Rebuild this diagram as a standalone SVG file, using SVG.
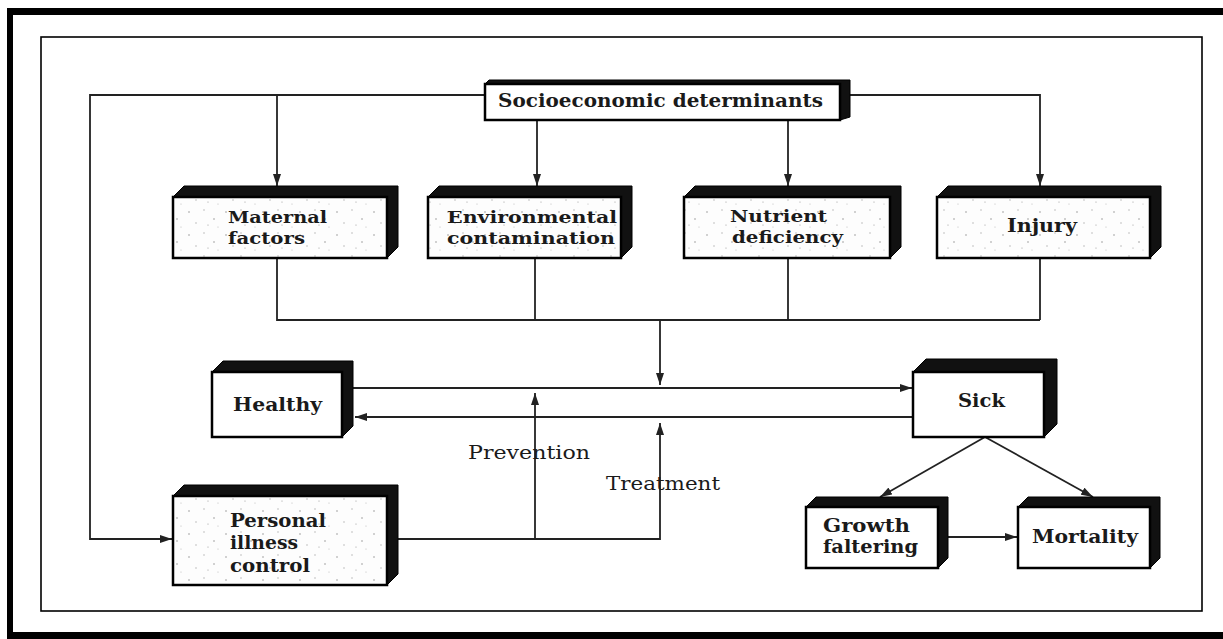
<svg xmlns="http://www.w3.org/2000/svg" width="1223" height="639" viewBox="0 0 1223 639">
<defs>
<style>
.frame{fill:none;stroke:#000}
.face{fill:#fff;stroke:#000;stroke-width:2.5}
.spk{fill:url(#speckle);stroke:#000;stroke-width:2.5}
.shade{fill:#111;stroke:#000;stroke-width:1}
.lbl{font-family:"DejaVu Serif","Liberation Serif",serif;font-weight:bold;font-size:19px;fill:#1a1a1a}
.sm{font-size:17px}
.plain{font-family:"DejaVu Serif","Liberation Serif",serif;font-size:19px;fill:#1a1a1a}
.ln{fill:none;stroke:#222;stroke-width:1.8}
.arr{fill:none;stroke:#222;stroke-width:1.8;marker-end:url(#ah)}
</style>
<marker id="ah" viewBox="0 0 12 8" refX="12" refY="4" markerWidth="12" markerHeight="8" markerUnits="userSpaceOnUse" orient="auto">
<path d="M0,0 L12,4 L0,8 Z" fill="#222"/>
</marker>
<pattern id="speckle" width="37" height="23" patternUnits="userSpaceOnUse">
<rect width="37" height="23" fill="#fdfdfd"/>
<circle cx="4" cy="5" r="0.8" fill="#999"/>
<circle cx="19" cy="3" r="0.7" fill="#aaa"/>
<circle cx="29" cy="12" r="0.8" fill="#999"/>
<circle cx="11" cy="16" r="0.7" fill="#aaa"/>
<circle cx="33" cy="20" r="0.6" fill="#bbb"/>
<circle cx="23" cy="18" r="0.6" fill="#999"/>
</pattern>
</defs>
<rect width="1223" height="639" fill="#fff"/>
<g id="outer-frame">
<rect x="7" y="8" width="1216" height="7" fill="#000"/>
<rect x="7" y="8" width="6" height="631" fill="#000"/>
<rect x="7" y="632" width="1216" height="7" fill="#000"/>
<rect class="frame" x="41" y="37" width="1161" height="574" stroke-width="1.6" stroke="#333"/>
</g>
<g id="connectors">
<polyline class="arr" points="485,95 90,95 90,539 172,539"/>
<line class="arr" x1="277" y1="95" x2="277" y2="186"/>
<line class="arr" x1="537" y1="120" x2="537" y2="186"/>
<line class="arr" x1="788" y1="120" x2="788" y2="186"/>
<polyline class="arr" points="850,95 1040,95 1040,186"/>
<polyline class="ln" points="277,258 277,320 1040,320"/>
<line class="ln" x1="535" y1="258" x2="535" y2="320"/>
<line class="ln" x1="788" y1="258" x2="788" y2="320"/>
<line class="ln" x1="1040" y1="258" x2="1040" y2="320"/>
<line class="arr" x1="660" y1="320" x2="660" y2="385"/>
<line class="arr" x1="353" y1="388" x2="912" y2="388"/>
<line class="arr" x1="913" y1="417" x2="355" y2="417"/>
<polyline class="arr" points="387,539 660,539 660,423"/>
<line class="arr" x1="535" y1="539" x2="535" y2="393"/>
<line class="arr" x1="985" y1="437" x2="880" y2="497"/>
<line class="arr" x1="985" y1="437" x2="1093" y2="497"/>
<line class="arr" x1="948" y1="537" x2="1017" y2="537"/>
</g>
<g id="n-socio">
<polygon class="shade" points="485,84 489,80 850,80 850,117 840,120"/>
<rect class="face" x="485" y="84" width="355" height="36"/>
<text class="lbl" x="498" y="107" textLength="325" lengthAdjust="spacingAndGlyphs">Socioeconomic determinants</text>
</g>
<g id="n-maternal">
<polygon class="shade" points="173,197 184,186 398,186 398,247 387,258"/>
<rect class="spk" x="173" y="197" width="214" height="61"/>
<text class="lbl sm" x="228" y="223" textLength="99" lengthAdjust="spacingAndGlyphs">Maternal</text>
<text class="lbl sm" x="228" y="244" textLength="77" lengthAdjust="spacingAndGlyphs">factors</text>
</g>
<g id="n-environmental">
<polygon class="shade" points="428,197 439,186 632,186 632,247 621,258"/>
<rect class="spk" x="428" y="197" width="193" height="61"/>
<text class="lbl sm" x="447" y="223" textLength="170" lengthAdjust="spacingAndGlyphs">Environmental</text>
<text class="lbl sm" x="447" y="244" textLength="168" lengthAdjust="spacingAndGlyphs">contamination</text>
</g>
<g id="n-nutrient">
<polygon class="shade" points="684,197 695,186 901,186 901,247 890,258"/>
<rect class="spk" x="684" y="197" width="206" height="61"/>
<text class="lbl sm" x="730" y="222" textLength="97" lengthAdjust="spacingAndGlyphs">Nutrient</text>
<text class="lbl sm" x="732" y="243" textLength="111" lengthAdjust="spacingAndGlyphs">deficiency</text>
</g>
<g id="n-injury">
<polygon class="shade" points="937,197 948,186 1161,186 1161,247 1150,258"/>
<rect class="spk" x="937" y="197" width="213" height="61"/>
<text class="lbl" x="1007" y="232" textLength="70" lengthAdjust="spacingAndGlyphs">Injury</text>
</g>
<g id="n-healthy">
<polygon class="shade" points="212,372 223,361 353,361 353,426 342,437"/>
<rect class="face" x="212" y="372" width="130" height="65"/>
<text class="lbl" x="233" y="411" textLength="89" lengthAdjust="spacingAndGlyphs">Healthy</text>
</g>
<g id="n-sick">
<polygon class="shade" points="913,372 926,359 1057,359 1057,424 1044,437"/>
<rect class="face" x="913" y="372" width="131" height="65"/>
<text class="lbl" x="958" y="407" textLength="47" lengthAdjust="spacingAndGlyphs">Sick</text>
</g>
<g id="n-personal">
<polygon class="shade" points="173,496 184,485 398,485 398,574 387,585"/>
<rect class="spk" x="173" y="496" width="214" height="89"/>
<text class="lbl" x="230" y="527" textLength="96" lengthAdjust="spacingAndGlyphs">Personal</text>
<text class="lbl" x="230" y="549" textLength="68" lengthAdjust="spacingAndGlyphs">illness</text>
<text class="lbl" x="230" y="572" textLength="80" lengthAdjust="spacingAndGlyphs">control</text>
</g>
<g id="n-growth">
<polygon class="shade" points="806,507 816,497 948,497 948,558 938,568"/>
<rect class="face" x="806" y="507" width="132" height="61"/>
<text class="lbl" x="823" y="532" textLength="87" lengthAdjust="spacingAndGlyphs">Growth</text>
<text class="lbl" x="823" y="553" textLength="95" lengthAdjust="spacingAndGlyphs">faltering</text>
</g>
<g id="n-mortality">
<polygon class="shade" points="1018,507 1028,497 1160,497 1160,558 1150,568"/>
<rect class="face" x="1018" y="507" width="132" height="61"/>
<text class="lbl" x="1032" y="543" textLength="106" lengthAdjust="spacingAndGlyphs">Mortality</text>
</g>
<g id="labels">
<text class="plain" x="468" y="459" textLength="122" lengthAdjust="spacingAndGlyphs">Prevention</text>
<text class="plain" x="606" y="490" textLength="114" lengthAdjust="spacingAndGlyphs">Treatment</text>
</g>
</svg>
